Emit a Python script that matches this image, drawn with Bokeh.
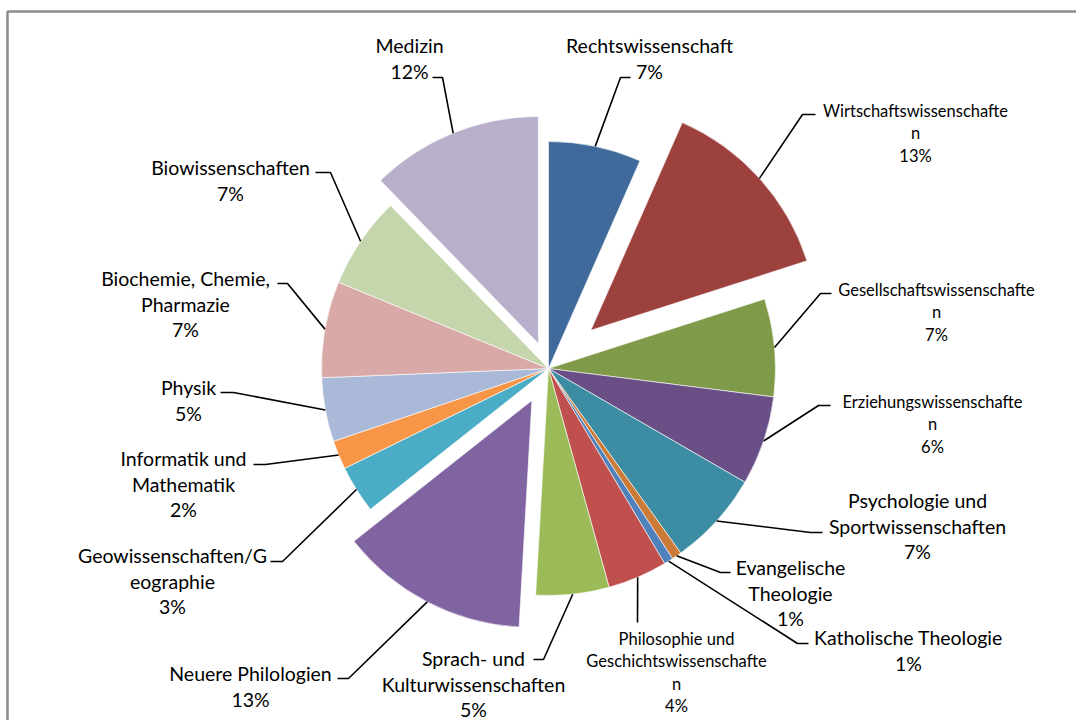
import math
from bokeh.plotting import figure
from bokeh.models import Range1d
from bokeh.core.properties import value
from bokeh.embed import file_html
from bokeh.resources import INLINE

# ---------------- data ----------------
categories = [
    "Rechtswissenschaft", "Wirtschaftswissenschaften", "Gesellschaftswissenschaften",
    "Erziehungswissenschaften", "Psychologie und Sportwissenschaften", "Evangelische Theologie",
    "Katholische Theologie", "Philosophie und Geschichtswissenschaften",
    "Sprach- und Kulturwissenschaften", "Neuere Philologien", "Geowissenschaften/Geographie",
    "Informatik und Mathematik", "Physik", "Biochemie, Chemie, Pharmazie",
    "Biowissenschaften", "Medizin",
]
shares = [6.6, 13.45, 6.95, 6.35, 6.75, 0.7, 0.65, 4.25, 5.2, 13.45, 3.4, 2.05, 4.55, 6.85, 6.55, 12.25]

# label text as wrapped in the chart
label_lines = [
    ["Rechtswissenschaft"],
    ["Wirtschaftswissenschafte", "n"],
    ["Gesellschaftswissenschafte", "n"],
    ["Erziehungswissenschafte", "n"],
    ["Psychologie und", "Sportwissenschaften"],
    ["Evangelische", "Theologie"],
    ["Katholische Theologie"],
    ["Philosophie und", "Geschichtswissenschafte", "n"],
    ["Sprach- und", "Kulturwissenschaften"],
    ["Neuere Philologien"],
    ["Geowissenschaften/G", "eographie"],
    ["Informatik und", "Mathematik"],
    ["Physik"],
    ["Biochemie, Chemie,", "Pharmazie"],
    ["Biowissenschaften"],
    ["Medizin"],
]

# ---------------- styles / layout ----------------
colors = ["#3F6A9B", "#9D413F", "#7F9A48", "#6A4F86", "#3C8DA3", "#CB7B37",
          "#4F81BD", "#C0504D", "#9BBB59", "#8064A2", "#4BACC6", "#F79646",
          "#AAB9D7", "#D9A9A8", "#C6D6AC", "#B9AFCA"]
explode_px = [0, 57, 0, 0, 0, 0, 0, 0, 0, 36, 0, 0, 0, 0, 0, 27]
small_font = [False, True, True, True, False, False, False, True,
              False, False, False, False, False, False, False, False]
label_cx = [649, 915, 936, 932, 917, 790, 908, 676, 473, 250, 172, 183, 188, 185, 230, 409]
label_y0 = [45, 110, 289, 401, 500, 567, 637, 638, 658, 673, 555, 458, 387, 278, 167, 45]
elbow_xy = [(620, 77), (802, 114), (820, 293), (818, 405), (810, 532), (720, 572),
            (797, 643), (637, 622), (543, 659), (348, 678), (282, 561), (265, 464),
            (233, 392), (287, 283), (330, 172), (442, 77)]
hend_x = [630, 815, 831, 830, 822, 730, 808, 637, 533, 337, 270, 253, 220, 277, 315, 432]

W, H = 1076, 720
CX, CY = 548, 368          # pie centre (screen coords)
R = 227
FONT = "Lato"
BIG, SMALL = 19.5, 16.5
SP_BIG, SP_SMALL = 25.5, 22.5

def sy(y):
    return H - y

p = figure(width=W, height=H, x_range=Range1d(0, W), y_range=Range1d(0, H),
           output_backend="svg", toolbar_location=None,
           x_axis_location=None, y_axis_location=None, min_border=0)
p.grid.visible = False
p.outline_line_color = None
p.background_fill_color = "white"
p.border_fill_color = "white"

# chart frame (top-left edges visible)
p.line([7, 7, W + 5], [sy(H + 5), sy(11), sy(11)], line_color="#8C8C8C", line_width=2.5)

total = sum(shares)
cum = 0.0
xs, ys, sa, ea, anchors = [], [], [], [], []
for i, v in enumerate(shares):
    f0 = cum / total
    f1 = (cum + v) / total
    cum += v
    mid = (f0 + f1) / 2 * 2 * math.pi      # clockwise from 12 o'clock
    off = explode_px[i]
    x0 = CX + off * math.sin(mid)
    y0 = sy(CY) + off * math.cos(mid)
    xs.append(x0)
    ys.append(y0)
    sa.append(math.pi / 2 - f0 * 2 * math.pi)
    ea.append(math.pi / 2 - f1 * 2 * math.pi)
    anchors.append((CX + (R + off) * math.sin(mid), sy(CY) + (R + off) * math.cos(mid)))

p.wedge(x=xs, y=ys, radius=R, start_angle=sa, end_angle=ea, direction="clock",
        fill_color=colors, line_color="white", line_width=0.6)

# leader lines
lx, ly = [], []
for i in range(len(shares)):
    ax, ay = anchors[i]
    ex, ey = elbow_xy[i]
    lx.append([ax, ex, hend_x[i]])
    ly.append([ay, sy(ey), sy(ey)])
p.multi_line(xs=lx, ys=ly, line_color="black", line_width=1.6)

# labels
tx, ty, tt, ts = [], [], [], []
for i, v in enumerate(shares):
    lines = label_lines[i] + [f"{round(v / total * 100):.0f}%"]
    sp = SP_SMALL if small_font[i] else SP_BIG
    for k, s in enumerate(lines):
        tx.append(label_cx[i])
        ty.append(sy(label_y0[i] + k * sp))
        tt.append(s)
        ts.append(f"{SMALL if small_font[i] else BIG}px")

p.text(x=tx, y=ty, text=tt, text_font_size=ts, text_font=value(FONT),
       text_align="center", text_baseline="middle", text_color="#000000")

open("out.html", "w").write(file_html(p, INLINE))
